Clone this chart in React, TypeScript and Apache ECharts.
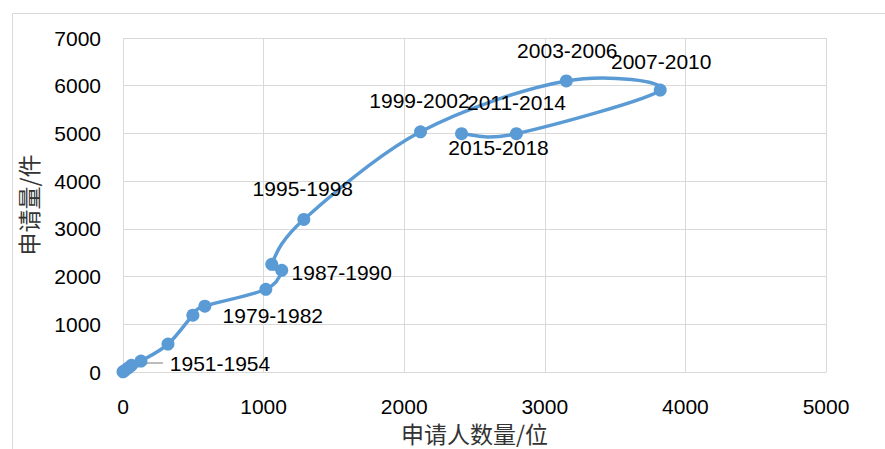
import React, { useEffect, useRef } from "react";
import * as echarts from "echarts";

// Applicants (x) and applications (y) per four-year period
const periods = [
  "1951-1954", "1955-1958", "1959-1962", "1963-1966", "1967-1970", "1971-1974",
  "1975-1978", "1979-1982", "1983-1986", "1987-1990", "1991-1994", "1995-1998",
  "1999-2002", "2003-2006", "2007-2010", "2011-2014", "2015-2018",
];
const applicants = [0, 12, 35, 60, 128, 320, 497, 582, 1016, 1129, 1058, 1286, 2116, 3153, 3821, 2798, 2408];
const applications = [5, 30, 80, 140, 230, 585, 1190, 1380, 1734, 2131, 2257, 3197, 5035, 6100, 5910, 4995, 4995];

// Which periods carry a label, and where the label sits relative to its point (px)
const labelledPeriods = ["1951-1954", "1979-1982", "1987-1990", "1995-1998", "1999-2002", "2003-2006", "2007-2010", "2011-2014", "2015-2018"];
const labelOffsets: Record<string, [number, number]> = {
  "1951-1954": [97, -8],
  "1979-1982": [68, 9],
  "1987-1990": [60, 2],
  "1995-1998": [-1, -31],
  "1999-2002": [-1, -31],
  "2003-2006": [1, -30],
  "2007-2010": [1, -29],
  "2011-2014": [0, -31],
  "2015-2018": [37, 14],
};
// Leader line from the 1951-1954 point to its label
const leaderX = [7, 178, 284];
const leaderY = [0, 188, 188];

const xTicks = [0, 1000, 2000, 3000, 4000, 5000];
const yTicks = [0, 1000, 2000, 3000, 4000, 5000, 6000, 7000];

const SYMBOL = 13;
const BLUE = "#5B9BD5";

export default function App() {
  const ref = useRef<HTMLDivElement>(null);
  useEffect(() => {
    if (!ref.current) return;
    const chart = echarts.init(ref.current, undefined, { renderer: "svg" });
    const data = periods.map((p, i) => {
      const item: any = { name: p, value: [applicants[i], applications[i]] };
      if (labelledPeriods.includes(p)) {
        const [dx, dy] = labelOffsets[p];
        item.label = {
          show: true,
          position: [SYMBOL / 2 + dx, SYMBOL / 2 + dy],
          align: "center",
          verticalAlign: "middle",
          formatter: p,
          color: "#000",
          fontSize: 21,
          fontFamily: "Liberation Sans, Arial, sans-serif",
        };
      }
      return item;
    });

    // Excel-like smoothed line (Catmull-Rom Bezier) through all points, via the axis scales
    const renderCurve = (params: any, api: any) => {
      if (params.dataIndex !== 0) return null;
      const pts = applicants.map((x, i) => api.coord([x, applications[i]]));
      const n = pts.length;
      let d = `M${pts[0][0]},${pts[0][1]}`;
      for (let i = 0; i < n - 1; i++) {
        const p0 = pts[Math.max(0, i - 1)];
        const p1 = pts[i];
        const p2 = pts[i + 1];
        const p3 = pts[Math.min(n - 1, i + 2)];
        const c1 = [p1[0] + (p2[0] - p0[0]) / 6, p1[1] + (p2[1] - p0[1]) / 6];
        const c2 = [p2[0] - (p3[0] - p1[0]) / 6, p2[1] - (p3[1] - p1[1]) / 6];
        d += ` C${c1[0]},${c1[1]} ${c2[0]},${c2[1]} ${p2[0]},${p2[1]}`;
      }
      return {
        type: "path",
        shape: { pathData: d },
        style: { fill: "none", stroke: BLUE, lineWidth: 3.5, lineCap: "round", lineJoin: "round" },
        silent: true,
      };
    };

    chart.setOption({
      animation: false,
      backgroundColor: "#fff",
      graphic: [
        {
          type: "rect",
          shape: { x: 12.5, y: 13.5, width: 900, height: 500 },
          style: { fill: "none", stroke: "#d9d9d9", lineWidth: 1 },
          silent: true,
        },
      ],
      grid: { left: 123, right: 59, top: 38, bottom: 77, containLabel: false, outerBoundsMode: "none" },
      xAxis: {
        type: "value",
        min: xTicks[0],
        max: xTicks[xTicks.length - 1],
        interval: 1000,
        name: "申请人数量/位",
        nameLocation: "middle",
        nameGap: 46,
        nameTextStyle: { fontSize: 23, lineHeight: 23, color: "#333", fontFamily: "Noto Sans CJK SC, sans-serif" },
        axisLine: { show: true, lineStyle: { color: "#d9d9d9", width: 1 } },
        axisTick: { show: false },
        splitLine: { show: true, lineStyle: { color: "#d9d9d9", width: 1 } },
        axisLabel: {
          fontSize: 21, color: "#000", margin: 24,
          fontFamily: "Liberation Sans, Arial, sans-serif",
          formatter: (v: number) => String(v),
        },
      },
      yAxis: {
        type: "value",
        min: yTicks[0],
        max: yTicks[yTicks.length - 1],
        interval: 1000,
        name: "申请量/件",
        nameLocation: "middle",
        nameGap: 84,
        nameRotate: 90,
        nameTextStyle: { fontSize: 23, color: "#333", fontFamily: "Noto Sans CJK SC, sans-serif" },
        axisLine: { show: false },
        axisTick: { show: false },
        splitLine: { show: true, lineStyle: { color: "#d9d9d9", width: 1 } },
        axisLabel: {
          fontSize: 21, color: "#000", margin: 22,
          fontFamily: "Liberation Sans, Arial, sans-serif",
          formatter: (v: number) => String(v),
        },
      },
      series: [
        {
          type: "line",
          data: leaderX.map((x, i) => [x, leaderY[i]]),
          symbol: "none",
          lineStyle: { color: "#a6a6a6", width: 1.5 },
          silent: true,
          z: 1,
        },
        {
          type: "custom",
          renderItem: renderCurve,
          data: applicants.map((x, i) => [x, applications[i]]),
          encode: { x: 0, y: 1 },
          clip: false,
          silent: true,
          z: 2,
        },
        {
          type: "line",
          data,
          symbol: "circle",
          symbolSize: SYMBOL,
          itemStyle: { color: BLUE },
          lineStyle: { width: 0, opacity: 0 },
          labelLayout: { hideOverlap: false },
          z: 3,
        },
      ],
    });
    return () => chart.dispose();
  }, []);
  return <div ref={ref} style={{ position: "absolute", left: 0, top: 0, width: 885, height: 449 }} />;
}
